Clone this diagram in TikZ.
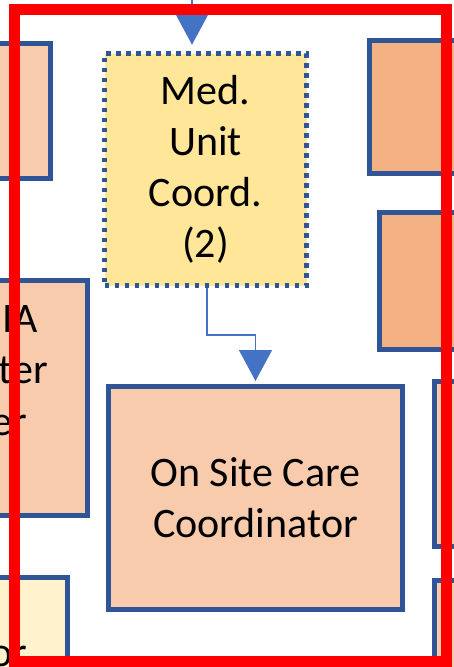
\documentclass[tikz,border=0pt]{standalone}
\usepackage{xcolor}
\usepackage{fontspec}
\setmainfont{Carlito}
\usepackage{tikz}
\usetikzlibrary{arrows.meta, positioning}

\definecolor{edgeblue}{HTML}{2F5597}
\definecolor{arrowblue}{HTML}{4472C4}
\definecolor{peachlight}{HTML}{F8CBAD}
\definecolor{peachdark}{HTML}{F4B183}
\definecolor{medyellow}{HTML}{FFE699}
\definecolor{paleyellow}{HTML}{FFF2CC}

\begin{document}
\begin{tikzpicture}[x=1pt, y=-1pt]
		\tikzset{
			box/.style={rectangle, draw=edgeblue, line width=5pt, inner sep=0pt, align=center,
			font=\fontsize{42}{51}\selectfont},
			dotbox/.style={rectangle, draw=edgeblue, line width=4.5pt, dash pattern=on 4.5pt off 5.5pt,
			fill=medyellow, inner sep=0pt, align=center, font=\fontsize{42}{51}\selectfont},
			frag/.style={inner sep=0pt, anchor=base east, font=\fontsize{42}{51}\selectfont},
			link/.style={draw=arrowblue, line width=1.5pt, -{Triangle[width=33pt, length=31pt]}}
		}
		\useasboundingbox (0,0) rectangle (454,667);

		% boxes cut by the frame
		\node[box, fill=peachlight, minimum width=110pt, minimum height=135pt] (lefttop) at (-4.5,111) {};
		\node[box, fill=peachlight, minimum width=150pt, minimum height=235pt] (leftmid) at (12.5,398) {};
		\node[box, fill=paleyellow, minimum width=120pt, minimum height=130pt] (leftlow) at (7.5,642.5) {};
		\node[box, fill=peachdark, minimum width=150pt, minimum height=133pt] (righttop) at (444.5,107) {};
		\node[box, fill=peachdark, minimum width=150pt, minimum height=137pt] (rightmid) at (454.5,281) {};
		\node[box, fill=peachlight, minimum width=60pt, minimum height=165pt] (rightlow) at (464.5,464) {};
		\node[box, fill=peachlight, minimum width=60pt, minimum height=130pt] (rightend) at (464.5,645.5) {};

		\node[frag] (midA) at (38,332) {IA};
		\node[frag] (midB) at (48,383) {ter};
		\node[frag] (midC) at (27,435) {er};
		\node[frag] (lowA) at (27,666) {or};

		% main boxes
		\node[dotbox, minimum width=202pt, minimum height=232pt] (med) at (205.5,169.5) {Med.\\Unit\\Coord.\\(2)};
		\node[box, fill=peachlight, minimum width=294pt, minimum height=223pt] (onsite) at (255.5,498) {On Site Care\\Coordinator};

		\coordinate (src) at (192,-2);
		\coordinate (bend) at (207,335);

		\draw[link, shorten >=6.5pt] (src) -- (src |- med.north);
		\draw[link, shorten >=3pt] (med.south -| bend) -- (bend) -| (onsite.north);

		% red frame
		\draw[red, line width=11pt] (14.5,9.5) rectangle (446.5,661);
	\end{tikzpicture}
\end{document}
